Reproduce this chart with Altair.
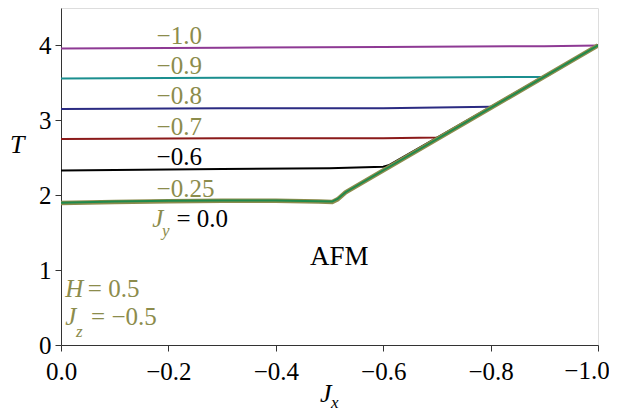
import altair as alt
import pandas as pd

FONT = "Liberation Serif"
OLIVE = "#8c8c4c"

# series data (Jx, T)
series_names = ["-1.0", "-0.9", "-0.8", "-0.7", "-0.6", "0.0", "-0.25"]
series_x = {
    "0.0":   [0.0, -0.1, -0.2, -0.3, -0.4, -0.48, -0.505, -0.515, -0.53, -1.0],
    "-0.25": [0.0, -0.1, -0.2, -0.3, -0.4, -0.48, -0.505, -0.515, -0.53, -1.0],
    "-0.6":  [0.0, -0.3, -0.5, -0.6, -0.61, -1.0],
    "-0.7":  [0.0, -0.3, -0.6, -0.7, -0.71, -1.0],
    "-0.8":  [0.0, -0.3, -0.6, -0.8, -0.81, -1.0],
    "-0.9":  [0.0, -0.3, -0.6, -0.9, -0.905, -1.0],
    "-1.0":  [0.0, -0.3, -0.6, -0.9, -1.0],
}
series_y = {
    "0.0":   [1.895, 1.91, 1.92, 1.925, 1.925, 1.915, 1.91, 1.945, 2.04, 4.0],
    "-0.25": [1.90, 1.915, 1.925, 1.93, 1.93, 1.92, 1.915, 1.95, 2.04, 4.0],
    "-0.6":  [2.33, 2.35, 2.36, 2.38, 2.40, 4.0],
    "-0.7":  [2.75, 2.76, 2.76, 2.77, 2.79, 4.0],
    "-0.8":  [3.15, 3.16, 3.16, 3.18, 3.20, 4.0],
    "-0.9":  [3.56, 3.57, 3.57, 3.58, 3.59, 4.0],
    "-1.0":  [3.96, 3.97, 3.98, 3.99, 4.0],
}
series_color = {
    "0.0": OLIVE, "-0.25": "#1f8a4c", "-0.6": "#000000", "-0.7": "#8b1a1a",
    "-0.8": "#2b2b82", "-0.9": "#1b8f8f", "-1.0": "#8e3a94",
}
series_width = {"0.0": 4.5, "-0.25": 2, "-0.6": 2, "-0.7": 2, "-0.8": 2, "-0.9": 2, "-1.0": 2}

# curve labels
label_text = ["\u22121.0", "\u22120.9", "\u22120.8", "\u22120.7", "\u22120.6", "\u22120.25"]
label_x = [-0.178, -0.178, -0.178, -0.178, -0.178, -0.178]
label_y = [4.02, 3.62, 3.22, 2.81, 2.40, 1.98]
label_color = [OLIVE, OLIVE, OLIVE, OLIVE, "#000000", OLIVE]

x_ticks = [0.0, -0.2, -0.4, -0.6, -0.8, -1.0]
y_ticks = [0, 1, 2, 3, 4]
last_tick_label = "\u22121.0"

xs = alt.Scale(domain=[-1.0, 0.0], reverse=True, nice=False)
ys = alt.Scale(domain=[0, 4.5], nice=False)

axis_common = dict(title=None, grid=False, labelFont=FONT, labelFontSize=25, labelColor="#000",
                   tickColor="#333", domainColor="#333", tickSize=6, labelFlush=False)

layers = []
for i, name in enumerate(series_names):
    df = pd.DataFrame({"Jx": series_x[name], "T": series_y[name], "order": range(len(series_x[name]))})
    layers.append(
        alt.Chart(df).mark_line(color=series_color[name], strokeWidth=series_width[name], clip=True).encode(
            x=alt.X("Jx:Q", scale=xs, axis=alt.Axis(values=x_ticks, format=".1f", labelPadding=8,
                                                     labelExpr="datum.value <= -0.99 ? '' : datum.label",
                                                     **axis_common)),
            y=alt.Y("T:Q", scale=ys, axis=alt.Axis(values=y_ticks, format="d", labelPadding=4, **axis_common)),
            order="order:Q",
        )
    )

lab_df = pd.DataFrame({"text": label_text, "x": label_x, "y": label_y, "c": label_color})
layers.append(
    alt.Chart(lab_df).mark_text(font=FONT, fontSize=25, align="left", baseline="alphabetic").encode(
        x=alt.X("x:Q", scale=xs), y=alt.Y("y:Q", scale=ys), text="text:N",
        color=alt.Color("c:N", scale=None),
    )
)

# annotations: (text, x, y, color, italic, size)
ann_text = ["J", "y", "= 0.0", "AFM", "H", "= 0.5", "J", "z", "= \u22120.5"]
ann_x = [-0.170, -0.188, -0.215, -0.518, -0.008, -0.05, -0.008, -0.028, -0.056]
ann_y = [1.57, 1.46, 1.57, 1.07, 0.64, 0.64, 0.27, 0.11, 0.27]
ann_color = [OLIVE, OLIVE, "#000000", "#000000", OLIVE, OLIVE, OLIVE, OLIVE, OLIVE]
ann_italic = [True, True, False, False, True, False, True, True, False]
ann_size = [25, 17, 25, 27, 25, 25, 25, 17, 25]
ann_align = ["left", "left", "left", "center", "left", "left", "left", "left", "left"]

for t, x, y, c, it, s, al in zip(ann_text, ann_x, ann_y, ann_color, ann_italic, ann_size, ann_align):
    d = pd.DataFrame({"x": [x], "y": [y], "t": [t]})
    kw = dict(font=FONT, fontSize=s, align=al, baseline="alphabetic", color=c)
    if it:
        kw["fontStyle"] = "italic"
    layers.append(alt.Chart(d).mark_text(**kw).encode(
        x=alt.X("x:Q", scale=xs), y=alt.Y("y:Q", scale=ys), text="t:N"))

# last x tick label, nudged left so it stays inside the page
layers.append(alt.Chart(pd.DataFrame({"t": [last_tick_label]})).mark_text(
    font=FONT, fontSize=25, align="center", baseline="top", color="#000"
).encode(x=alt.value(526), y=alt.value(351), text="t:N"))

# axis titles
layers.append(alt.Chart(pd.DataFrame({"t": ["T"]})).mark_text(
    font=FONT, fontSize=26, fontStyle="italic", align="left", baseline="alphabetic", color="#000"
).encode(x=alt.value(-51), y=alt.value(145), text="t:N"))
layers.append(alt.Chart(pd.DataFrame({"t": ["J"]})).mark_text(
    font=FONT, fontSize=26, fontStyle="italic", align="left", baseline="alphabetic", color="#000"
).encode(x=alt.value(259), y=alt.value(394), text="t:N"))
layers.append(alt.Chart(pd.DataFrame({"t": ["x"]})).mark_text(
    font=FONT, fontSize=17, fontStyle="italic", align="left", baseline="alphabetic", color="#000"
).encode(x=alt.value(270), y=alt.value(400), text="t:N"))

chart = alt.layer(*layers).properties(
    width=537, height=337,
    autosize=alt.AutoSizeParams(type="none"),
    padding={"left": 53, "top": 0, "right": 11, "bottom": 67},
).configure_view(stroke="#333", strokeWidth=1.2).configure(background="white")

chart.save("out.html", embed_options={"renderer": "svg", "actions": False})
